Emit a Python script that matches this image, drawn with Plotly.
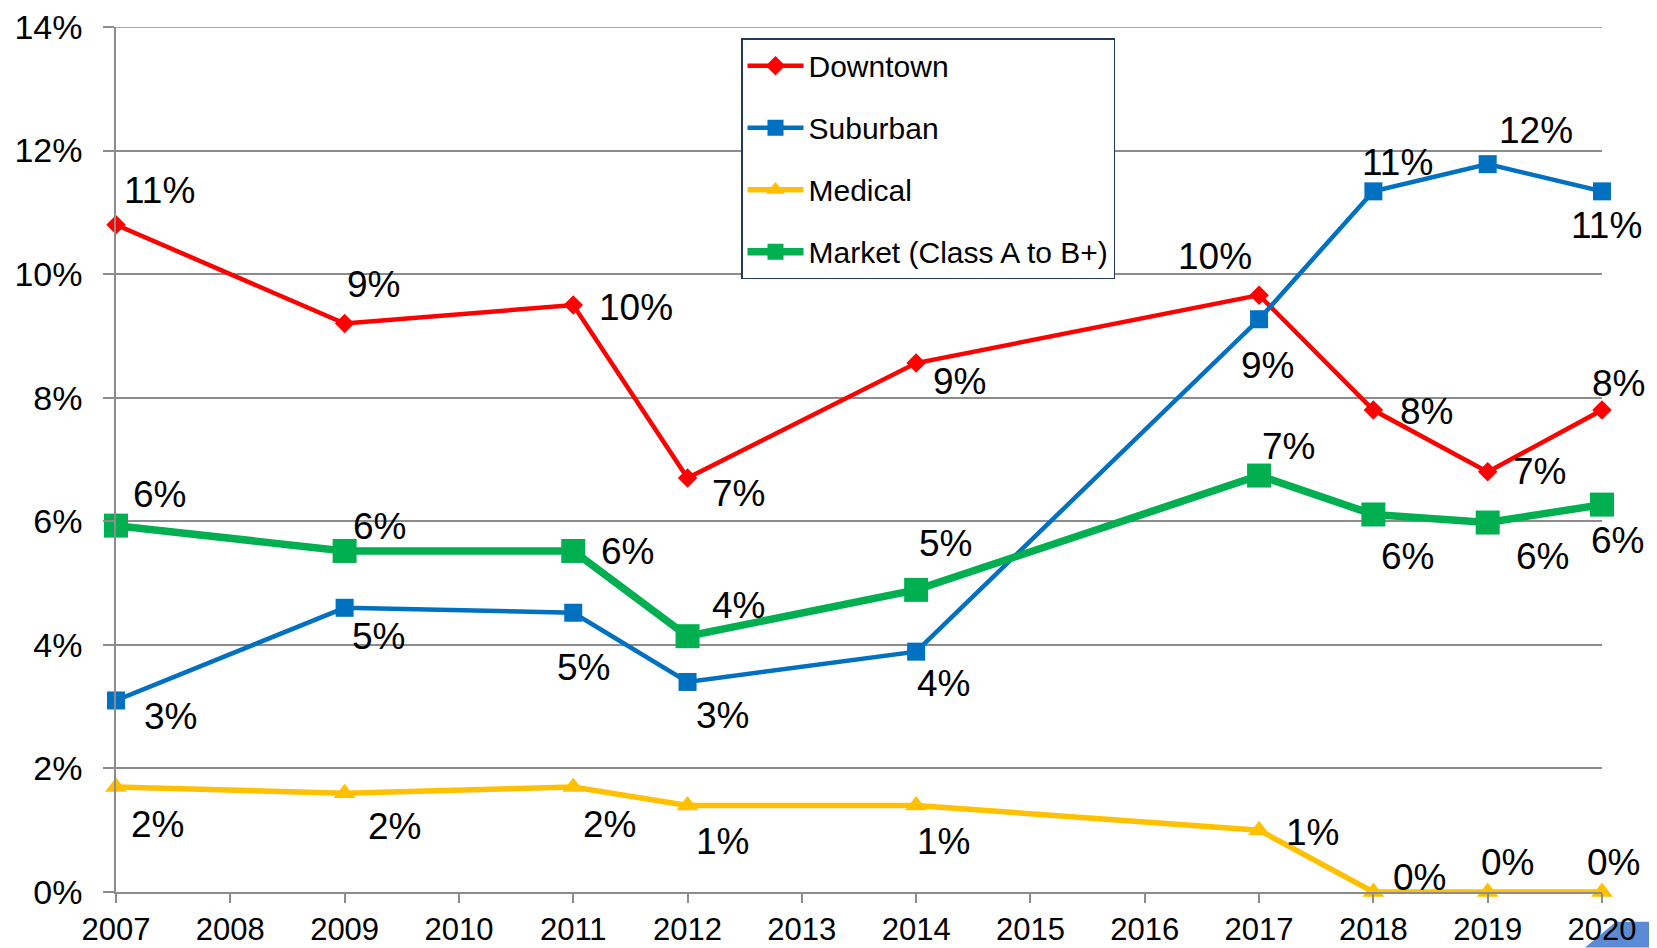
import math
import plotly.graph_objects as go

# ---- data ----
years = [2007, 2009, 2011, 2012, 2014, 2017, 2018, 2019, 2020]
downtown = [10.8, 9.2, 9.5, 6.7, 8.56, 9.66, 7.8, 6.8, 7.8]
suburban = [3.1, 4.6, 4.52, 3.4, 3.89, 9.27, 11.34, 11.78, 11.34]
medical = [1.7, 1.6, 1.7, 1.4, 1.4, 1.0, 0.0, 0.0, 0.0]
market = [5.93, 5.52, 5.52, 4.14, 4.89, 6.74, 6.11, 5.98, 6.27]
series_names = ["Downtown", "Suburban", "Medical", "Market (Class A to B+)"]
y_max = 14

# ---- style ----
colors = ["#FF0000", "#0070C0", "#FFC000", "#00B050"]
symbols = ["diamond", "square", "triangle-up", "square"]
msizes = [15, 18, 19, 24]
lwidths = [4.5, 4.5, 5.5, 7.5]
# label offsets (px) from each point: (dx right, dy down)
label_off = [
    [(43, -34), (29, -39), (63, 2), (51, 15), (43, 18), (-44, -39), (53, 1), (52, 0), (16, -27)],
    [(54, 16), (34, 29), (10, 55), (35, 34), (27, 32), (8, 46), (24, -29), (48, -34), (4, 34)],
    [(41, 38), (50, 33), (36, 38), (35, 36), (27, 36), (53, 2), (46, -15), (20, -30), (11, -30)],
    [(43, -31), (35, -24), (54, 1), (51, -31), (29, -46), (29, -29), (34, 42), (55, 34), (15, 36)],
]

FONT = "Arial, Liberation Sans, sans-serif"
GRID = "#8C8C8C"


def lab(v):
    return f"{int(math.floor(v + 0.5))}%"


fig = go.Figure()
all_series = [downtown, suburban, medical, market]
for i, vals in enumerate(all_series):
    fig.add_trace(go.Scatter(
        x=years, y=vals, name=series_names[i],
        mode="lines+markers",
        line=dict(color=colors[i], width=lwidths[i]),
        marker=dict(symbol=symbols[i], size=msizes[i], color=colors[i]),
        cliponaxis=False,
        legendgroup=f"g{i}",
    ))
    for xv, yv, (dx, dy) in zip(years, vals, label_off[i]):
        fig.add_annotation(
            x=xv, y=yv, xref="x", yref="y", text=lab(yv), showarrow=False,
            xshift=dx, yshift=-dy, xanchor="center", yanchor="middle",
            font=dict(family=FONT, size=37, color="black"),
        )

fig.update_layout(
    width=1657, height=948,
    margin=dict(l=108, r=63, t=19, b=64, autoexpand=False),
    paper_bgcolor="white", plot_bgcolor="white",
    font=dict(family=FONT, color="black"),
    showlegend=True,
    legend=dict(
        x=0.4206, y=0.987, xanchor="left", yanchor="top",
        bgcolor="white", bordercolor="#1F3864", borderwidth=1.5,
        font=dict(family=FONT, size=30, color="black"),
        traceorder="grouped", tracegroupgap=20, itemwidth=56,
    ),
    xaxis=dict(
        range=[2007, 2020], dtick=1, tick0=2007, showgrid=False, zeroline=False,
        showline=True, linecolor=GRID, linewidth=1.5, automargin=False,
        ticks="outside", ticklen=9, tickcolor=GRID, tickwidth=1.5,
        tickfont=dict(family=FONT, size=31, color="black"),
        ticklabeloverflow="allow",
    ),
    yaxis=dict(
        range=[0, y_max], dtick=2, tick0=0, ticksuffix="%",
        showgrid=True, gridcolor=GRID, gridwidth=1.5, zeroline=False,
        showline=True, linecolor=GRID, linewidth=1.5, automargin=False,
        ticks="outside", ticklen=11, tickcolor=GRID, tickwidth=1.5,
        tickfont=dict(family=FONT, size=34, color="black"),
        ticklabelstandoff=14, ticklabeloverflow="allow",
    ),
)

# top gridline (plotly omits the grid line at the range edge)
fig.add_shape(type="line", xref="paper", yref="y", x0=-0.0074, x1=1, y0=y_max, y1=y_max,
              line=dict(color=GRID, width=1.5), layer="below")

# decorative slide corner (bottom right)
fig.add_shape(type="path", xref="paper", yref="paper",
              path="M 0.9886,-0.0643 L 1.0094,-0.0344 L 1.04,-0.0344 L 1.04,-0.0643 Z",
              fillcolor="#5B8BD5", line=dict(width=0), layer="below")

fig.write_html("out.html")
